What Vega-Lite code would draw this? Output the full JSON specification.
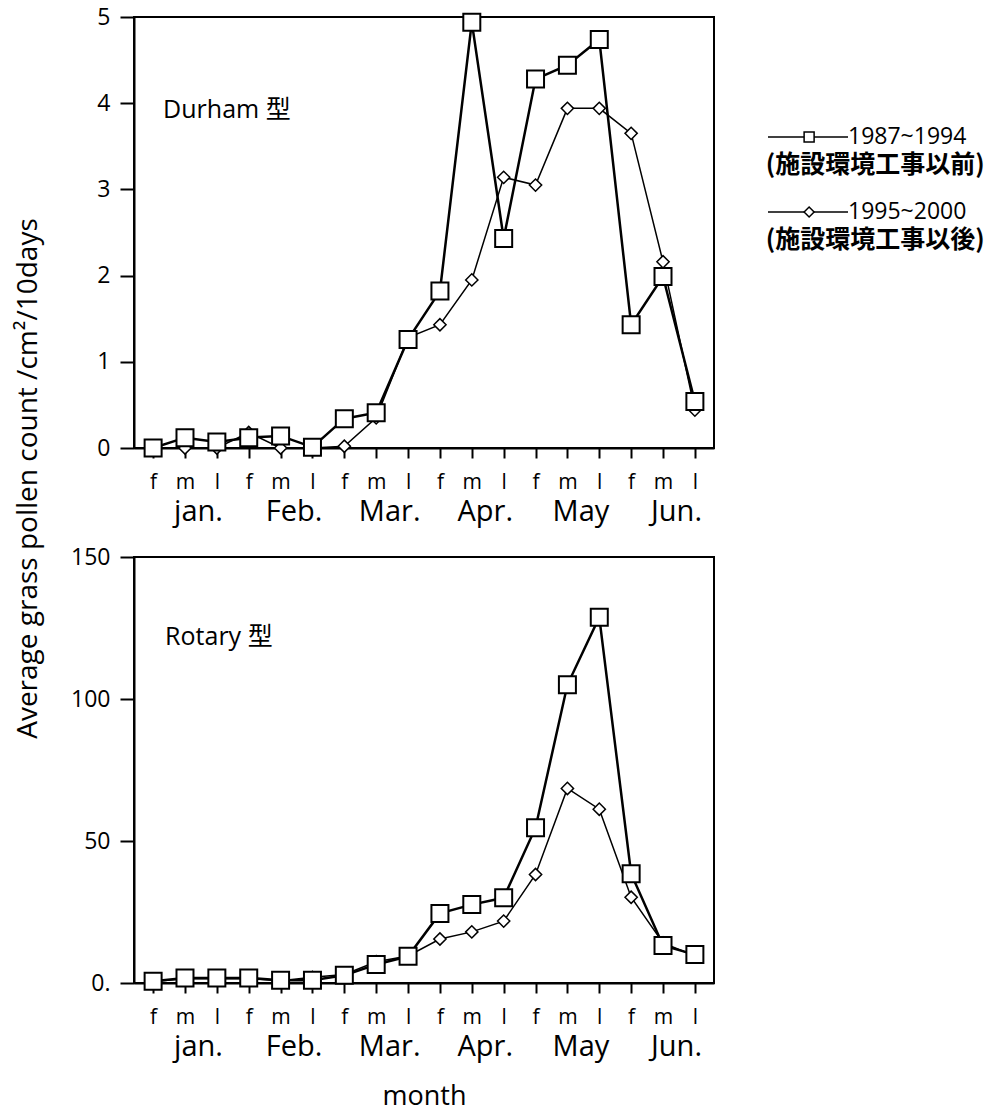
{
  "$schema": "https://vega.github.io/schema/vega-lite/v6.json",
  "padding": {"left": 12, "top": 5, "right": 5, "bottom": 2},
  "background": "white",
  "config": {
    "font": "Open Sans, Noto Sans CJK JP",
    "view": {"stroke": "black", "strokeWidth": 2},
    "axis": {"domainColor": "black", "domainWidth": 2, "tickColor": "black", "tickWidth": 2, "labelColor": "black", "titleColor": "black", "grid": false, "labelFont": "Open Sans", "titleFont": "Open Sans", "titleFontWeight": "normal", "labelOverlap": false}
  },
  "datasets": {
    "durham": [
      {"t": 1, "series": "B", "value": 0.0}, {"t": 2, "series": "B", "value": 0.0}, {"t": 3, "series": "B", "value": 0.0},
      {"t": 4, "series": "B", "value": 0.18}, {"t": 5, "series": "B", "value": 0.0}, {"t": 6, "series": "B", "value": 0.0},
      {"t": 7, "series": "B", "value": 0.02}, {"t": 8, "series": "B", "value": 0.35}, {"t": 9, "series": "B", "value": 1.28},
      {"t": 10, "series": "B", "value": 1.43}, {"t": 11, "series": "B", "value": 1.95}, {"t": 12, "series": "B", "value": 3.14},
      {"t": 13, "series": "B", "value": 3.05}, {"t": 14, "series": "B", "value": 3.94}, {"t": 15, "series": "B", "value": 3.94},
      {"t": 16, "series": "B", "value": 3.65}, {"t": 17, "series": "B", "value": 2.16}, {"t": 18, "series": "B", "value": 0.44},
      {"t": 1, "series": "A", "value": 0.0}, {"t": 2, "series": "A", "value": 0.12}, {"t": 3, "series": "A", "value": 0.07},
      {"t": 4, "series": "A", "value": 0.12}, {"t": 5, "series": "A", "value": 0.14}, {"t": 6, "series": "A", "value": 0.01},
      {"t": 7, "series": "A", "value": 0.34}, {"t": 8, "series": "A", "value": 0.41}, {"t": 9, "series": "A", "value": 1.26},
      {"t": 10, "series": "A", "value": 1.82}, {"t": 11, "series": "A", "value": 4.94}, {"t": 12, "series": "A", "value": 2.43},
      {"t": 13, "series": "A", "value": 4.28}, {"t": 14, "series": "A", "value": 4.44}, {"t": 15, "series": "A", "value": 4.74},
      {"t": 16, "series": "A", "value": 1.43}, {"t": 17, "series": "A", "value": 1.99}, {"t": 18, "series": "A", "value": 0.54}
    ],
    "rotary": [
      {"t": 1, "series": "B", "value": 0.5}, {"t": 2, "series": "B", "value": 1.5}, {"t": 3, "series": "B", "value": 1.5},
      {"t": 4, "series": "B", "value": 1.5}, {"t": 5, "series": "B", "value": 0.8}, {"t": 6, "series": "B", "value": 2.0},
      {"t": 7, "series": "B", "value": 3.0}, {"t": 8, "series": "B", "value": 7.5}, {"t": 9, "series": "B", "value": 9.5},
      {"t": 10, "series": "B", "value": 15.5}, {"t": 11, "series": "B", "value": 18.0}, {"t": 12, "series": "B", "value": 21.8},
      {"t": 13, "series": "B", "value": 38.2}, {"t": 14, "series": "B", "value": 68.5}, {"t": 15, "series": "B", "value": 61.2},
      {"t": 16, "series": "B", "value": 30.2}, {"t": 17, "series": "B", "value": 14.1}, {"t": 18, "series": "B", "value": 9.5},
      {"t": 1, "series": "A", "value": 0.6}, {"t": 2, "series": "A", "value": 1.8}, {"t": 3, "series": "A", "value": 1.8},
      {"t": 4, "series": "A", "value": 1.8}, {"t": 5, "series": "A", "value": 1.0}, {"t": 6, "series": "A", "value": 1.0},
      {"t": 7, "series": "A", "value": 2.7}, {"t": 8, "series": "A", "value": 6.5}, {"t": 9, "series": "A", "value": 9.4},
      {"t": 10, "series": "A", "value": 24.5}, {"t": 11, "series": "A", "value": 27.6}, {"t": 12, "series": "A", "value": 30.0},
      {"t": 13, "series": "A", "value": 54.7}, {"t": 14, "series": "A", "value": 105.0}, {"t": 15, "series": "A", "value": 128.8},
      {"t": 16, "series": "A", "value": 38.5}, {"t": 17, "series": "A", "value": 13.2}, {"t": 18, "series": "A", "value": 10.0}
    ],
    "legend": [
      {"series": "1987~1994", "note": "(施設環境工事以前)"},
      {"series": "1995~2000", "note": "(施設環境工事以後)"}
    ]
  },
  "spacing": 50,
  "hconcat": [
    {
      "bounds": "flush",
      "spacing": 109,
      "vconcat": [
        {
          "width": 580,
          "height": 431,
          "data": {"name": "durham"},
          "resolve": {"axis": {"x": "independent"}},
          "layer": [
            {
              "transform": [{"filter": "datum.series == 'B'"}],
              "mark": {"type": "line", "color": "black", "strokeWidth": 1.5},
              "encoding": {
                "x": {"field": "t", "type": "ordinal", "scale": {"type": "point", "padding": 0.6},
                  "axis": {"orient": "bottom", "title": null, "labelExpr": "['f','m','l'][(datum.value-1)%3]", "labelAngle": 0, "labelFontSize": 21, "tickSize": 10, "labelPadding": 13, "labelBaseline": "top"}},
                "y": {"field": "value", "type": "quantitative", "scale": {"domain": [0, 5], "nice": false},
                  "axis": {"title": null, "values": [0, 1, 2, 3, 4, 5], "format": "d", "tickSize": 14, "labelFontSize": 23, "labelPadding": 10}}
              }
            },
            {
              "transform": [{"filter": "datum.series == 'A'"}],
              "mark": {"type": "line", "color": "black", "strokeWidth": 2.5},
              "encoding": {
                "x": {"field": "t", "type": "ordinal", "axis": null},
                "y": {"field": "value", "type": "quantitative"}
              }
            },
            {
              "transform": [{"filter": "datum.series == 'B'"}],
              "mark": {"type": "point", "shape": "diamond", "size": 150, "filled": true, "fill": "white", "stroke": "black", "strokeWidth": 1.5, "opacity": 1},
              "encoding": {
                "x": {"field": "t", "type": "ordinal", "axis": null},
                "y": {"field": "value", "type": "quantitative"}
              }
            },
            {
              "transform": [{"filter": "datum.series == 'A'"}],
              "mark": {"type": "point", "shape": "square", "size": 289, "filled": true, "fill": "white", "stroke": "black", "strokeWidth": 2, "opacity": 1},
              "encoding": {
                "x": {"field": "t", "type": "ordinal", "axis": null},
                "y": {"field": "value", "type": "quantitative"}
              }
            },
            {
              "data": {"values": [{"label": "Durham 型"}]},
              "mark": {"type": "text", "align": "left", "baseline": "middle", "fontSize": 25, "dx": 10, "color": "black"},
              "encoding": {
                "x": {"datum": 1, "type": "ordinal",
                  "axis": {"orient": "bottom", "title": null, "values": [2, 5, 8, 11, 14, 17], "labelExpr": "['jan.','Feb.','Mar.','Apr.','May','Jun.'][(datum.value-2)/3]", "ticks": false, "tickSize": 0, "domain": false, "offset": 45, "labelPadding": 4, "labelFontSize": 29, "labelOffset": 13, "labelAngle": 0, "labelBaseline": "top"}},
                "y": {"datum": 3.92, "type": "quantitative"},
                "text": {"field": "label"}
              }
            }
          ]
        },
        {
          "width": 580,
          "height": 426,
          "data": {"name": "rotary"},
          "resolve": {"axis": {"x": "independent"}},
          "layer": [
            {
              "transform": [{"filter": "datum.series == 'B'"}],
              "mark": {"type": "line", "color": "black", "strokeWidth": 1.5},
              "encoding": {
                "x": {"field": "t", "type": "ordinal", "scale": {"type": "point", "padding": 0.6},
                  "axis": {"orient": "bottom", "title": null, "labelExpr": "['f','m','l'][(datum.value-1)%3]", "labelAngle": 0, "labelFontSize": 21, "tickSize": 10, "labelPadding": 13, "labelBaseline": "top"}},
                "y": {"field": "value", "type": "quantitative", "scale": {"domain": [0, 150], "nice": false},
                  "axis": {"title": "Average grass pollen count /cm²/10days", "values": [0, 50, 100, 150], "labelExpr": "datum.value == 0 ? '0.' : datum.label", "tickSize": 14, "labelFontSize": 23, "labelPadding": 10, "titleFontSize": 28, "titleX": -92, "titleY": -79, "titleAngle": -90, "titleAlign": "center", "titleBaseline": "bottom"}}
              }
            },
            {
              "transform": [{"filter": "datum.series == 'A'"}],
              "mark": {"type": "line", "color": "black", "strokeWidth": 2.5},
              "encoding": {
                "x": {"field": "t", "type": "ordinal", "axis": null},
                "y": {"field": "value", "type": "quantitative"}
              }
            },
            {
              "transform": [{"filter": "datum.series == 'B'"}],
              "mark": {"type": "point", "shape": "diamond", "size": 150, "filled": true, "fill": "white", "stroke": "black", "strokeWidth": 1.5, "opacity": 1},
              "encoding": {
                "x": {"field": "t", "type": "ordinal", "axis": null},
                "y": {"field": "value", "type": "quantitative"}
              }
            },
            {
              "transform": [{"filter": "datum.series == 'A'"}],
              "mark": {"type": "point", "shape": "square", "size": 289, "filled": true, "fill": "white", "stroke": "black", "strokeWidth": 2, "opacity": 1},
              "encoding": {
                "x": {"field": "t", "type": "ordinal", "axis": null},
                "y": {"field": "value", "type": "quantitative"}
              }
            },
            {
              "data": {"values": [{"label": "Rotary 型"}]},
              "mark": {"type": "text", "align": "left", "baseline": "middle", "fontSize": 25, "dx": 12, "color": "black"},
              "encoding": {
                "x": {"datum": 1, "type": "ordinal",
                  "axis": {"orient": "bottom", "title": "month", "titleFontSize": 27, "titlePadding": 22, "values": [2, 5, 8, 11, 14, 17], "labelExpr": "['jan.','Feb.','Mar.','Apr.','May','Jun.'][(datum.value-2)/3]", "ticks": false, "tickSize": 0, "domain": false, "offset": 45, "labelPadding": 4, "labelFontSize": 29, "labelOffset": 13, "labelAngle": 0, "labelBaseline": "top"}},
                "y": {"datum": 121.8, "type": "quantitative"},
                "text": {"field": "label"}
              }
            }
          ]
        }
      ]
    },
    {
      "width": 200,
      "height": 240,
      "view": {"stroke": null},
      "data": {"name": "legend"},
      "encoding": {
        "y": {"field": "series", "type": "nominal", "scale": {"type": "point", "padding": 0.6, "domain": [" ", "1987~1994", "1995~2000"]}, "axis": null}
      },
      "layer": [
        {
          "mark": {"type": "rule", "color": "black", "strokeWidth": 1.5},
          "encoding": {
            "x": {"datum": 0, "type": "quantitative", "scale": {"domain": [0, 8.7]}, "axis": null},
            "x2": {"datum": 3.6}
          }
        },
        {
          "mark": {"type": "point", "filled": true, "fill": "white", "stroke": "black", "strokeWidth": 1.5, "size": 100, "opacity": 1},
          "encoding": {
            "x": {"datum": 1.85, "type": "quantitative"},
            "shape": {"field": "series", "type": "nominal", "scale": {"domain": ["1987~1994", "1995~2000"], "range": ["square", "diamond"]}, "legend": null}
          }
        },
        {
          "mark": {"type": "text", "align": "left", "baseline": "middle", "fontSize": 23, "color": "black"},
          "encoding": {
            "x": {"datum": 3.6, "type": "quantitative"},
            "text": {"field": "series"}
          }
        },
        {
          "mark": {"type": "text", "align": "left", "baseline": "middle", "fontSize": 25, "fontWeight": "bold", "yOffset": 28, "font": "Noto Sans CJK JP", "color": "black"},
          "encoding": {
            "x": {"datum": -0.1, "type": "quantitative"},
            "text": {"field": "note"}
          }
        }
      ]
    }
  ]
}
